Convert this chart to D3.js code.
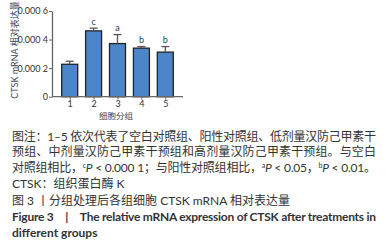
<!DOCTYPE html>
<html>
<head>
<meta charset="utf-8">
<script src="https://cdn.jsdelivr.net/npm/d3@7"></script>
<style>
  body { margin: 0; background: #fff; }
  svg { display: block; }
</style>
</head>
<body>
<div id="canvas"></div>
<script>
// DATA
const groups = ["1", "2", "3", "4", "5"];
const means = [0.000227, 0.000461, 0.000372, 0.00034, 0.000312];
const errs = [0.000021, 0.000019, 0.000063, 0.000011, 0.000039];
const sigLetters = ["", "c", "a", "b", "b"];
const yTicks = [0, 0.0002, 0.0004, 0.0006];
const yTickLabels = ["0", "0.000\u00a02", "0.000\u00a04", "0.000\u00a06"];

// DIMENSIONS
const width = 389;
const height = 243;

const svg = d3.select("#canvas")
  .append("svg")
  .attr("width", width)
  .attr("height", height);

const x = d3.scalePoint().domain(groups).range([52, 183]).padding(0.74);
const y = d3.scaleLinear().domain([0, 0.0006]).range([96.7, 11]);

const axisColor = "#666";
const textColor = "#333";
const cjk = "Lato, 'Noto Sans CJK SC', sans-serif";

// BARS
const rows = groups.map((g, i) => ({ g: g, m: means[i], e: errs[i], s: sigLetters[i] }));

svg.selectAll("rect.bar")
  .data(rows)
  .join("rect")
  .attr("class", "bar")
  .attr("x", d => x(d.g) - 8)
  .attr("width", 16)
  .attr("y", d => y(d.m))
  .attr("height", d => y(0) - y(d.m))
  .attr("fill", "#4a86c8")
  .attr("stroke", "#222")
  .attr("stroke-width", 1.3);

// ERROR BARS (upper only)
const eb = svg.selectAll("g.err").data(rows).join("g").attr("class", "err");
eb.append("line")
  .attr("x1", d => x(d.g)).attr("x2", d => x(d.g))
  .attr("y1", d => y(d.m)).attr("y2", d => y(d.m + d.e))
  .attr("stroke", "#555").attr("stroke-width", 1.3);
eb.append("line")
  .attr("x1", d => x(d.g) - 4).attr("x2", d => x(d.g) + 4)
  .attr("y1", d => y(d.m + d.e)).attr("y2", d => y(d.m + d.e))
  .attr("stroke", "#555").attr("stroke-width", 1.3);

// SIGNIFICANCE LETTERS
svg.selectAll("text.sig")
  .data(rows)
  .join("text")
  .attr("class", "sig")
  .attr("x", d => x(d.g))
  .attr("y", d => y(d.m + d.e) - 3.5)
  .attr("text-anchor", "middle")
  .attr("font-family", "Lato, sans-serif")
  .attr("font-size", 9)
  .attr("fill", "#1f3864")
  .text(d => d.s);

// AXES
const yAxis = svg.append("g")
  .attr("transform", "translate(52,0)")
  .call(d3.axisLeft(y).tickValues(yTicks).tickFormat((d, i) => yTickLabels[i]).tickSize(3).tickSizeOuter(0));
const xAxis = svg.append("g")
  .attr("transform", `translate(0,${y(0)})`)
  .call(d3.axisBottom(x).tickSize(3).tickSizeOuter(0));
xAxis.select(".domain").attr("d", `M52,0H183`);

[yAxis, xAxis].forEach(a => {
  a.select(".domain").attr("stroke", axisColor).attr("stroke-width", 1.3);
  a.selectAll(".tick line").attr("stroke", axisColor).attr("stroke-width", 1);
  a.selectAll("text").attr("fill", textColor).attr("font-family", "Lato, sans-serif").attr("font-size", 9);
});
yAxis.selectAll("text").attr("x", -4);
xAxis.selectAll("text").attr("y", 4);

// AXIS TITLES
svg.append("text")
  .attr("transform", "translate(18,50) rotate(-90)")
  .attr("text-anchor", "middle")
  .attr("font-family", cjk)
  .attr("font-size", 9)
  .attr("fill", "#3a4656")
  .text("CTSK mRNA 相对表达量");

svg.append("text")
  .attr("x", 116).attr("y", 118.5)
  .attr("text-anchor", "middle")
  .attr("font-family", cjk)
  .attr("font-size", 8.5)
  .attr("fill", "#3a4656")
  .text("细胞分组");

// CAPTION
function line(yPos, parts, opts) {
  const t = svg.append("text")
    .attr("x", 12).attr("y", yPos)
    .attr("font-family", cjk)
    .attr("font-size", opts.size || 12)
    .attr("font-weight", opts.bold ? "bold" : "normal")
    .attr("fill", "#333");
  if (opts.len) t.attr("textLength", opts.len).attr("lengthAdjust", "spacing");
  parts.forEach(p => {
    const s = t.append("tspan").text(p.t);
    if (p.sup) s.attr("font-size", 7).attr("baseline-shift", "super");
    if (p.it) s.attr("font-style", "italic");
  });
}

line(140.5, [{ t: "图注：1–5 依次代表了空白对照组、阳性对照组、低剂量汉防己甲素干" }], { len: 364 });
line(156, [{ t: "预组、中剂量汉防己甲素干预组和高剂量汉防己甲素干预组。与空白" }], { len: 364 });
line(171.5, [
  { t: "对照组相比，" }, { t: "c", sup: true }, { t: "P", it: true }, { t: " < 0.000 1；与阳性对照组相比，" },
  { t: "a", sup: true }, { t: "P", it: true }, { t: " < 0.05，" },
  { t: "b", sup: true }, { t: "P", it: true }, { t: " < 0.01。" }
], { len: 364 });
line(187.5, [{ t: "CTSK：组织蛋白酶 K" }], {});
line(204.5, [{ t: "图 3 丨分组处理后各组细胞 CTSK mRNA 相对表达量" }], {});
line(221, [{ t: "Figure 3　|　The relative mRNA expression of CTSK after treatments in" }], { bold: true, len: 364 });
line(236.5, [{ t: "different groups" }], { bold: true });
</script>
</body>
</html>
